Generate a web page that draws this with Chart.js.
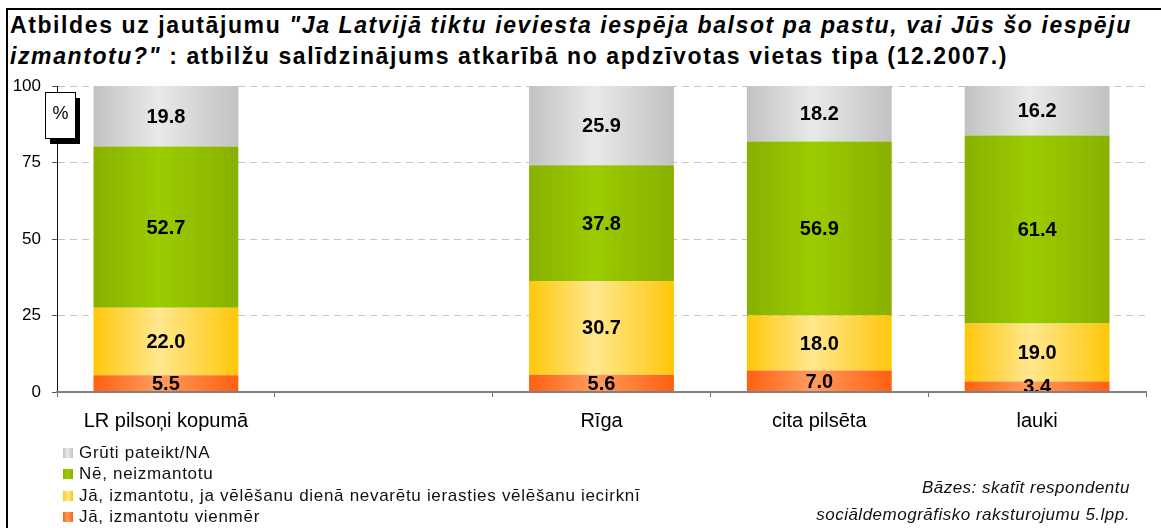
<!DOCTYPE html>
<html>
<head>
<meta charset="utf-8">
<script src="https://cdn.jsdelivr.net/npm/chart.js@4.4.1/dist/chart.umd.min.js"></script>
<style>
  html, body { margin: 0; padding: 0; background: #fff; }
  body { width: 1161px; height: 528px; overflow: hidden; position: relative; font-family: "Liberation Sans", Arial, sans-serif; }
  #frame { position: absolute; left: 6px; top: 8px; width: 1200px; height: 600px; border-left: 2px solid #000; border-top: 2px solid #000; }
  #title { position: absolute; left: 10px; top: 10px; font-size: 23px; letter-spacing: 1.6px; line-height: 31px; font-weight: bold; white-space: nowrap; color: #000; }
  #chart { position: absolute; left: 0; top: 0; }
  #legend { position: absolute; left: 63px; top: 442px; font-size: 17px; letter-spacing: 0.7px; line-height: 21.3px; color: #111; }
  #legend div { white-space: nowrap; }
  #legend span.sw { display: inline-block; width: 10px; height: 10px; margin-right: 6px; }
  #note { position: absolute; right: 31px; top: 474px; font-size: 17px; letter-spacing: 0.5px; line-height: 27px; font-style: italic; text-align: right; color: #111; white-space: nowrap; }
</style>
</head>
<body>
<div id="frame"></div>
<div id="title">Atbildes uz jautājumu <i>"Ja Latvijā tiktu ieviesta iespēja balsot pa pastu, vai Jūs šo iespēju<br>izmantotu?"</i> : atbilžu salīdzinājums atkarībā no apdzīvotas vietas tipa (12.2007.)</div>
<canvas id="chart" width="1161" height="528"></canvas>
<div id="legend"></div>
<div id="note">Bāzes: skatīt respondentu<br>sociāldemogrāfisko raksturojumu 5.lpp.</div>
<script>
// categories (second slot is an empty gap in the original chart)
const categories = ['LR pilsoņi kopumā', '', 'Rīga', 'cita pilsēta', 'lauki'];

// series, bottom to top
const vienmer = [5.5, null, 5.6, 7.0, 3.4];
const jaNevaretu = [22.0, null, 30.7, 18.0, 19.0];
const neizmantotu = [52.7, null, 37.8, 56.9, 61.4];
const gruti = [19.8, null, 25.9, 18.2, 16.2];

const seriesNames = [
  'Jā, izmantotu vienmēr',
  'Jā, izmantotu, ja vēlēšanu dienā nevarētu ierasties vēlēšanu iecirknī',
  'Nē, neizmantotu',
  'Grūti pateikt/NA'
];

const yTicks = [0, 25, 50, 75, 100];

// [edge, middle] colours of the bar gradients
const fills = [
  ['#ff6010', '#ff9c5e'],
  ['#ffc70a', '#ffe78e'],
  ['#88b000', '#9bcc00'],
  ['#c2c2c2', '#e9e9e9']
];

const BAR_PCT = 0.665;

function barFill(edge, mid) {
  return (ctx) => {
    const chart = ctx.chart;
    const x = chart.scales && chart.scales.x;
    if (!chart.chartArea || !x || ctx.type !== 'data') return mid;
    const step = x.getPixelForValue(1) - x.getPixelForValue(0);
    const c = x.getPixelForValue(ctx.dataIndex);
    const half = step * BAR_PCT / 2;
    const g = chart.ctx.createLinearGradient(c - half, 0, c + half, 0);
    g.addColorStop(0, edge);
    g.addColorStop(0.45, mid);
    g.addColorStop(1, edge);
    return g;
  };
}

const seriesData = [vienmer, jaNevaretu, neizmantotu, gruti];

const datasets = seriesData.map((d, i) => ({
  label: seriesNames[i],
  data: d,
  backgroundColor: barFill(fills[i][0], fills[i][1]),
  borderWidth: 0,
  categoryPercentage: 1,
  barPercentage: BAR_PCT
}));

// values written in the middle of each segment
const segmentLabels = {
  id: 'segmentLabels',
  afterDatasetsDraw(chart) {
    const ctx = chart.ctx;
    ctx.save();
    ctx.font = 'bold 20px "Liberation Sans", Arial, sans-serif';
    ctx.fillStyle = '#000';
    ctx.textAlign = 'center';
    ctx.textBaseline = 'middle';
    chart.data.datasets.forEach((ds, di) => {
      chart.getDatasetMeta(di).data.forEach((bar, i) => {
        const v = ds.data[i];
        if (v == null) return;
        const p = bar.getProps(['x', 'y', 'base'], true);
        ctx.fillText(v.toFixed(1), p.x, (p.y + p.base) / 2 + 1);
      });
    });
    ctx.restore();
  }
};

// "%" unit box with drop shadow on the value axis
const unitBox = {
  id: 'unitBox',
  afterDraw(chart) {
    const ctx = chart.ctx;
    ctx.save();
    ctx.fillStyle = '#000';
    ctx.fillRect(50, 98, 30, 46);
    ctx.fillStyle = '#fff';
    ctx.fillRect(45.5, 92.5, 30, 46);
    ctx.strokeStyle = '#000';
    ctx.lineWidth = 1;
    ctx.strokeRect(45.5, 92.5, 30, 46);
    ctx.fillStyle = '#000';
    ctx.font = '18px "Liberation Sans", Arial, sans-serif';
    ctx.textAlign = 'center';
    ctx.textBaseline = 'middle';
    ctx.fillText('%', 60.5, 114);
    ctx.restore();
  }
};

new Chart(document.getElementById('chart'), {
  type: 'bar',
  data: { labels: categories, datasets: datasets },
  options: {
    responsive: false,
    animation: false,
    devicePixelRatio: 1,
    layout: { padding: { left: 0, right: 15, top: 86, bottom: 0 } },
    plugins: {
      legend: { display: false },
      tooltip: { enabled: false },
      title: { display: false }
    },
    scales: {
      x: {
        stacked: true,
        offset: true,
        afterFit: (s) => { s.height = 136; },
        grid: { offset: true, drawOnChartArea: false, drawTicks: true, tickLength: 5, color: '#707070' },
        border: { display: true, color: '#808080', width: 2, z: 1 },
        ticks: {
          font: { family: '"Liberation Sans", Arial, sans-serif', size: 20 },
          color: '#000',
          padding: 12,
          maxRotation: 0,
          autoSkip: false
        }
      },
      y: {
        stacked: true,
        min: 0,
        max: 100,
        afterFit: (s) => { s.width = 57; },
        afterBuildTicks: (s) => { s.ticks = yTicks.map(v => ({ value: v })); },
        grid: {
          color: '#c4c4c4',
          lineWidth: 1,
          tickLength: 5,
          tickColor: '#555',
          tickBorderDash: [],
          drawTicks: true
        },
        border: { display: true, color: '#111', width: 1, dash: [7, 5] },
        ticks: {
          font: { family: '"Liberation Sans", Arial, sans-serif', size: 17 },
          color: '#000',
          padding: 11
        }
      }
    }
  },
  plugins: [segmentLabels, unitBox]
});

// legend, top to bottom as in the original (reverse stacking order)
const legend = document.getElementById('legend');
for (let i = seriesNames.length - 1; i >= 0; i--) {
  const row = document.createElement('div');
  const sw = document.createElement('span');
  sw.className = 'sw';
  sw.style.background = 'linear-gradient(to right, ' + fills[i][0] + ', ' + fills[i][1] + ' 45%, ' + fills[i][0] + ')';
  row.appendChild(sw);
  row.appendChild(document.createTextNode(seriesNames[i]));
  legend.appendChild(row);
}
</script>
</body>
</html>
